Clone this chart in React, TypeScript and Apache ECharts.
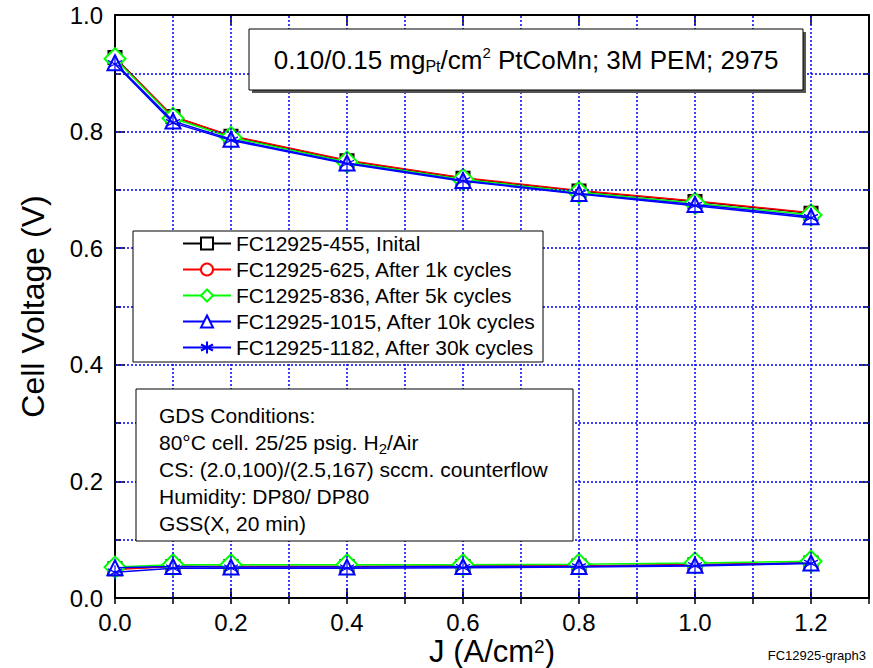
import React, { useEffect, useRef } from "react";
import * as echarts from "echarts";

const FONT = "'Liberation Sans', Arial, Helvetica, sans-serif";

// ---------- data ----------
const currentDensity = [0, 0.1, 0.2, 0.4, 0.6, 0.8, 1.0, 1.2];

const sampleNames = [
  "FC12925-455, Inital",
  "FC12925-625, After 1k cycles",
  "FC12925-836, After 5k cycles",
  "FC12925-1015, After 10k cycles",
  "FC12925-1182, After 30k cycles",
];

// cell voltage (upper curves)
const voltage455 = [0.927, 0.826, 0.792, 0.75, 0.72, 0.698, 0.68, 0.66];
const voltage625 = [0.926, 0.826, 0.793, 0.751, 0.721, 0.699, 0.681, 0.661];
const voltage836 = [0.925, 0.823, 0.79, 0.748, 0.718, 0.696, 0.677, 0.657];
const voltage1015 = [0.918, 0.818, 0.787, 0.746, 0.716, 0.694, 0.675, 0.654];
const voltage1182 = [0.916, 0.815, 0.785, 0.745, 0.715, 0.693, 0.673, 0.652];

// lower curves
const lower455 = [0.05, 0.054, 0.054, 0.054, 0.054, 0.055, 0.057, 0.06];
const lower625 = [0.049, 0.054, 0.054, 0.054, 0.055, 0.055, 0.057, 0.06];
const lower836 = [0.053, 0.057, 0.057, 0.057, 0.057, 0.058, 0.06, 0.063];
const lower1015 = [0.052, 0.054, 0.053, 0.053, 0.054, 0.054, 0.056, 0.06];
const lower1182 = [0.044, 0.051, 0.051, 0.051, 0.052, 0.053, 0.055, 0.059];

const xTickLabels = ["0.0", "0.2", "0.4", "0.6", "0.8", "1.0", "1.2"];
const yTickLabels = ["0.0", "0.2", "0.4", "0.6", "0.8", "1.0"];
const xGridValues = [0.1, 0.2, 0.3, 0.4, 0.5, 0.6, 0.7, 0.8, 0.9, 1.0, 1.1, 1.2];
const yGridValues = [0.1, 0.2, 0.3, 0.4, 0.5, 0.6, 0.7, 0.8, 0.9];

const titleText = "0.10/0.15 mg{sub|Pt}/cm{sup|2} PtCoMn; 3M PEM; 2975";
const conditionLines = [
  "GDS Conditions:",
  "80°C cell. 25/25 psig. H{sub|2}/Air",
  "CS: (2.0,100)/(2.5,167) sccm. counterflow",
  "Humidity: DP80/ DP80",
  "GSS(X, 20 min)",
];
const footnote = "FC12925-graph3";

// ---------- styles ----------
const voltages = [voltage455, voltage625, voltage836, voltage1015, voltage1182];
const lowers = [lower455, lower625, lower836, lower1015, lower1182];
const colors = ["#000000", "#ff0000", "#00ff00", "#0000ff", "#0000ff"];
const ASTERISK = "path://M5,0L5,10M0.67,2.5L9.33,7.5M9.33,2.5L0.67,7.5";
const symbols = ["emptyRect", "emptyCircle", "emptyDiamond", "emptyTriangle", ASTERISK];
const symbolSizes = [13, 13, 21, 15, 14];

const GRID_BLUE = "#0000ff";

function labelFrom(list: string[], step: number) {
  return (v: number) => {
    const idx = Math.round(v / step);
    if (Math.abs(idx * step - v) > 1e-6) return "";
    return list[idx] ?? "";
  };
}

export default function App() {
  const ref = useRef<HTMLDivElement>(null);

  useEffect(() => {
    if (!ref.current) return;
    const chart = echarts.init(ref.current, null, { renderer: "svg" });

    const series: any[] = [];

    const gridMark = (vals: number[], key: "xAxis" | "yAxis") => ({
      type: "line",
      name: "grid-" + key,
      xAxisIndex: 0,
      yAxisIndex: 0,
      data: [],
      silent: true,
      z: 1,
      markLine: {
        silent: true,
        animation: false,
        symbol: ["none", "none"],
        label: { show: false },
        emphasis: { disabled: true },
        lineStyle: { color: GRID_BLUE, type: [2, 2], width: 1.5, opacity: 1 },
        data: vals.map((v) => ({ [key]: v })),
      },
    });
    series.push(gridMark(xGridValues, "xAxis"));
    series.push(gridMark(yGridValues, "yAxis"));

    sampleNames.forEach((name, i) => {
      [voltages[i], lowers[i]].forEach((vals) => {
        series.push({
          type: "line",
          name,
          xAxisIndex: 0,
          yAxisIndex: 0,
          data: currentDensity.map((x, j) => [x, vals[j]]),
          symbol: symbols[i],
          symbolSize: symbolSizes[i],
          showAllSymbol: true,
          lineStyle: { color: colors[i], width: 1.5 },
          itemStyle: { color: colors[i], borderColor: colors[i], borderWidth: 1.2 },
          emphasis: { disabled: true },
          z: 2 + i,
        });
      });
    });

    const axisLine = () => ({ show: true, onZero: false, lineStyle: { color: "#000", width: 2 } });
    const majorTick = () => ({ show: true, inside: true, length: 10, lineStyle: { color: "#000", width: 1.5 } });
    const minorTickAxis = () => ({ show: true, inside: true, length: 6, lineStyle: { color: "#000", width: 1.5 } });

    const xBase = () => ({ type: "value", min: 0, max: 1.3, gridIndex: 0 });

    const option: any = {
      animation: false,
      backgroundColor: "#ffffff",
      textStyle: { fontFamily: FONT },
      grid: { left: 115, top: 15, right: 4, bottom: 70, containLabel: false, outerBoundsMode: "none" },
      xAxis: [
        {
          ...xBase(),
          position: "bottom",
          interval: 0.1,
          axisLine: { show: false },
          axisTick: minorTickAxis(),
          axisLabel: { show: false },
          splitLine: { show: false },
        },
        {
          ...xBase(),
          position: "bottom",
          interval: 0.2,
          axisLine: axisLine(),
          axisTick: majorTick(),
          axisLabel: {
            fontSize: 24,
            lineHeight: 24,
            color: "#000",
            fontFamily: FONT,
            margin: 12,
            showMaxLabel: false,
            formatter: labelFrom(xTickLabels, 0.2),
          },
          splitLine: { show: false },
          name: "{a|J (A/cm}{s|2}{a|)}",
          nameLocation: "middle",
          nameGap: 39,
          nameMoveOverlap: false,
          nameTextStyle: {
            rich: {
              a: { fontSize: 31, lineHeight: 29, color: "#000", fontFamily: FONT },
              s: { fontSize: 19, lineHeight: 14, verticalAlign: "top", color: "#000", fontFamily: FONT },
            },
          },
        },
        {
          ...xBase(),
          position: "top",
          interval: 0.2,
          axisLine: axisLine(),
          axisTick: majorTick(),
          axisLabel: { show: false },
          splitLine: { show: false },
        },
        {
          ...xBase(),
          position: "top",
          interval: 0.1,
          axisLine: { show: false },
          axisTick: minorTickAxis(),
          axisLabel: { show: false },
          splitLine: { show: false },
        },
      ],
      yAxis: [
        {
          type: "value",
          position: "left",
          min: 0,
          max: 1,
          interval: 0.2,
          axisLine: axisLine(),
          axisTick: majorTick(),
          minorTick: { show: true, splitNumber: 2, length: 6, lineStyle: { color: "#000", width: 1.5 } },
          axisLabel: {
            fontSize: 24,
            color: "#000",
            fontFamily: FONT,
            margin: 12,
            formatter: labelFrom(yTickLabels, 0.2),
          },
          splitLine: { show: false },
          minorSplitLine: { show: false },
          name: "Cell Voltage (V)",
          nameLocation: "middle",
          nameGap: 66,
          nameMoveOverlap: false,
          nameTextStyle: { fontSize: 32, color: "#000", fontFamily: FONT },
        },
        {
          type: "value",
          position: "right",
          min: 0,
          max: 1,
          interval: 0.2,
          axisLine: axisLine(),
          axisTick: majorTick(),
          minorTick: { show: true, splitNumber: 2, length: 6, lineStyle: { color: "#000", width: 1.5 } },
          axisLabel: { show: false },
          splitLine: { show: false },
        },
      ],
      legend: {
        show: true,
        orient: "vertical",
        left: 182,
        top: 233,
        padding: 0,
        itemWidth: 48,
        itemHeight: 15,
        itemGap: 5,
        z: 60,
        selectedMode: false,
        data: sampleNames,
        textStyle: { fontSize: 21, lineHeight: 21, color: "#000", fontFamily: FONT },
      },
      graphic: [
        // title box with shadow
        {
          type: "rect",
          z: 50,
          shape: { x: 252, y: 32, width: 554, height: 61 },
          style: { fill: "#555" },
          silent: true,
        },
        {
          type: "rect",
          z: 51,
          shape: { x: 249, y: 29, width: 554, height: 61 },
          style: { fill: "#fff", stroke: "#000", lineWidth: 1 },
          silent: true,
        },
        {
          type: "text",
          z: 52,
          x: 526,
          y: 59.5,
          silent: true,
          style: {
            text: titleText,
            fill: "#000",
            fontSize: 26,
            fontFamily: FONT,
            lineHeight: 30,
            align: "center",
            verticalAlign: "middle",
            rich: {
              sub: { fontSize: 16, lineHeight: 2, verticalAlign: "bottom", fill: "#000", fontFamily: FONT },
              sup: { fontSize: 15, lineHeight: 17, verticalAlign: "top", fill: "#000", fontFamily: FONT },
            },
          },
        },
        // legend box
        {
          type: "rect",
          z: 50,
          shape: { x: 133, y: 231, width: 410, height: 131 },
          style: { fill: "#fff", stroke: "#000", lineWidth: 1 },
          silent: true,
        },
        // conditions box
        {
          type: "rect",
          z: 50,
          shape: { x: 136, y: 389, width: 437, height: 152 },
          style: { fill: "#fff", stroke: "#000", lineWidth: 1 },
          silent: true,
        },
        {
          type: "text",
          z: 52,
          x: 159,
          y: 401.5,
          silent: true,
          style: {
            text: conditionLines.join("\n"),
            fill: "#000",
            fontSize: 21,
            fontFamily: FONT,
            lineHeight: 27,
            align: "left",
            verticalAlign: "top",
            rich: {
              sub: { fontSize: 15, lineHeight: 4, verticalAlign: "bottom", fill: "#000", fontFamily: FONT },
            },
          },
        },
        {
          type: "text",
          z: 52,
          x: 866,
          y: 655,
          silent: true,
          style: {
            text: footnote,
            fill: "#000",
            fontSize: 13,
            fontFamily: FONT,
            align: "right",
            verticalAlign: "middle",
          },
        },
      ],
      series,
    };

    chart.setOption(option);
    return () => chart.dispose();
  }, []);

  return (
    <div
      ref={ref}
      style={{ position: "fixed", left: 0, top: 0, width: 873, height: 668, background: "#fff" }}
    />
  );
}
